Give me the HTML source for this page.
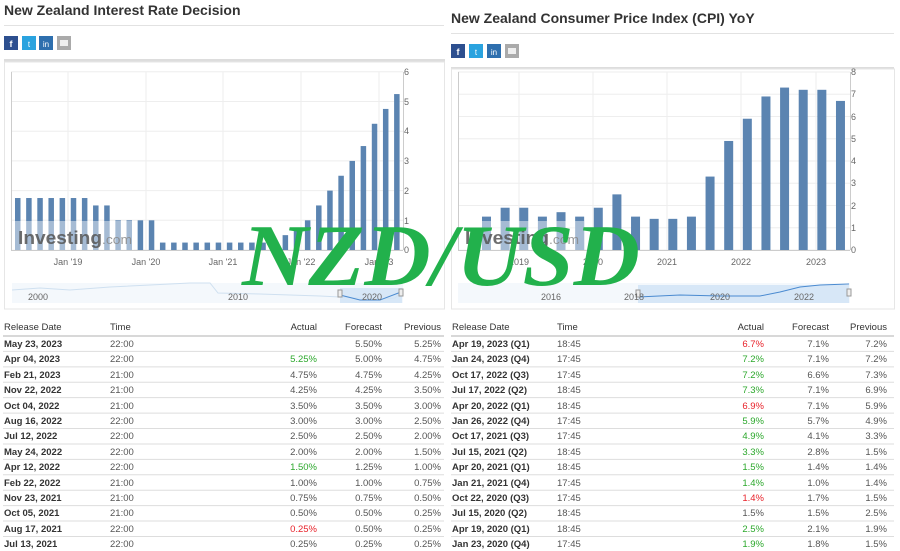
<!DOCTYPE html>
<html><head><meta charset="utf-8"><style>
body{margin:0;background:#fff;width:900px;height:551px;overflow:hidden}
svg{display:block;font-family:"Liberation Sans",Arial,sans-serif}
.t{font-size:14px;font-weight:bold;fill:#333}
.ax{font-size:9px;fill:#666}
.th{font-size:9.5px;fill:#333}
.d{font-size:9.5px;font-weight:bold;fill:#333}
.c{font-size:9.5px;fill:#555}
.r{text-anchor:end}
.g{fill:#2ca82c}.rd{fill:#e8222a}
</style></head><body>
<svg id="s" width="900" height="551" viewBox="0 0 900 551">
<text x="4" y="15" class="t">New Zealand Interest Rate Decision</text>
<line x1="4" y1="25.5" x2="444" y2="25.5" stroke="#e2e2e2"/>
<rect x="4" y="36" width="14" height="14" fill="#2d4f8f"/><text x="11" y="47" font-size="9" fill="#fff" text-anchor="middle" font-weight="bold">f</text>
<rect x="22" y="36" width="14" height="14" fill="#2aa3df"/><text x="29" y="47" font-size="8" fill="#fff" text-anchor="middle">t</text>
<rect x="39" y="36" width="14" height="14" fill="#2e6fae"/><text x="46" y="47" font-size="8" fill="#fff" text-anchor="middle">in</text>
<rect x="57" y="36" width="14" height="14" fill="#aaa"/><rect x="60" y="40" width="8" height="6" fill="#eee"/>
<rect x="4" y="59" width="441" height="3" fill="#ddd"/>
<rect x="4.5" y="62" width="440" height="247" fill="none" stroke="#e6e6e6"/>
<text x="451" y="23" class="t">New Zealand Consumer Price Index (CPI) YoY</text>
<line x1="451" y1="33.5" x2="894" y2="33.5" stroke="#e2e2e2"/>
<rect x="451" y="44" width="14" height="14" fill="#2d4f8f"/><text x="458" y="55" font-size="9" fill="#fff" text-anchor="middle" font-weight="bold">f</text>
<rect x="469" y="44" width="14" height="14" fill="#2aa3df"/><text x="476" y="55" font-size="8" fill="#fff" text-anchor="middle">t</text>
<rect x="487" y="44" width="14" height="14" fill="#2e6fae"/><text x="494" y="55" font-size="8" fill="#fff" text-anchor="middle">in</text>
<rect x="505" y="44" width="14" height="14" fill="#aaa"/><rect x="508" y="48" width="8" height="6" fill="#eee"/>
<rect x="451" y="67" width="443" height="2" fill="#ddd"/>
<rect x="451.5" y="69" width="443" height="240" fill="none" stroke="#e6e6e6"/>
<g id="dyn"></g>
<g class="ax">
<text x="404" y="75">6</text><text x="404" y="105">5</text><text x="404" y="134">4</text><text x="404" y="164">3</text><text x="404" y="194">2</text><text x="404" y="224">1</text><text x="404" y="253">0</text>
<text x="68" y="265" text-anchor="middle">Jan '19</text><text x="146" y="265" text-anchor="middle">Jan '20</text><text x="223" y="265" text-anchor="middle">Jan '21</text><text x="301" y="265" text-anchor="middle">Jan '22</text><text x="379" y="265" text-anchor="middle">Jan '23</text>
<text x="38" y="300" text-anchor="middle">2000</text><text x="238" y="300" text-anchor="middle">2010</text><text x="372" y="300" text-anchor="middle">2020</text>
<text x="851" y="75">8</text><text x="851" y="97">7</text><text x="851" y="120">6</text><text x="851" y="142">5</text><text x="851" y="164">4</text><text x="851" y="186">3</text><text x="851" y="209">2</text><text x="851" y="231">1</text><text x="851" y="253">0</text>
<text x="519" y="265" text-anchor="middle">2019</text><text x="593" y="265" text-anchor="middle">2020</text><text x="667" y="265" text-anchor="middle">2021</text><text x="741" y="265" text-anchor="middle">2022</text><text x="816" y="265" text-anchor="middle">2023</text>
<text x="551" y="300" text-anchor="middle">2016</text><text x="634" y="300" text-anchor="middle">2018</text><text x="720" y="300" text-anchor="middle">2020</text><text x="804" y="300" text-anchor="middle">2022</text>
</g>
<text x="18" y="244" font-size="18" font-weight="bold" fill="#555" opacity="0.85" textLength="114" lengthAdjust="spacingAndGlyphs">Investing<tspan font-weight="normal" font-size="13" fill="#888">.com</tspan></text>
<text x="465" y="244" font-size="18" font-weight="bold" fill="#555" opacity="0.85" textLength="114" lengthAdjust="spacingAndGlyphs">Investing<tspan font-weight="normal" font-size="13" fill="#888">.com</tspan></text>
<g class="th"><text x="4" y="330">Release Date</text><text x="110" y="330">Time</text><text x="317" y="330" class="r">Actual</text><text x="382" y="330" class="r">Forecast</text><text x="441" y="330" class="r">Previous</text>
<text x="452" y="330">Release Date</text><text x="557" y="330">Time</text><text x="764" y="330" class="r">Actual</text><text x="829" y="330" class="r">Forecast</text><text x="887" y="330" class="r">Previous</text></g>
<line x1="3" y1="336" x2="444" y2="336" stroke="#ccc" stroke-width="1.5"/><line x1="451" y1="336" x2="894" y2="336" stroke="#ccc" stroke-width="1.5"/>
<g id="rows"></g>
<g>
<text x="4" y="347" class="d">May 23, 2023</text><text x="110" y="347" class="c">22:00</text><text x="382" y="347" class="c r">5.50%</text><text x="441" y="347" class="c r">5.25%</text>
<text x="4" y="362" class="d">Apr 04, 2023</text><text x="110" y="362" class="c">22:00</text><text x="317" y="362" class="c r g">5.25%</text><text x="382" y="362" class="c r">5.00%</text><text x="441" y="362" class="c r">4.75%</text>
<text x="4" y="378" class="d">Feb 21, 2023</text><text x="110" y="378" class="c">21:00</text><text x="317" y="378" class="c r">4.75%</text><text x="382" y="378" class="c r">4.75%</text><text x="441" y="378" class="c r">4.25%</text>
<text x="4" y="393" class="d">Nov 22, 2022</text><text x="110" y="393" class="c">21:00</text><text x="317" y="393" class="c r">4.25%</text><text x="382" y="393" class="c r">4.25%</text><text x="441" y="393" class="c r">3.50%</text>
<text x="4" y="409" class="d">Oct 04, 2022</text><text x="110" y="409" class="c">21:00</text><text x="317" y="409" class="c r">3.50%</text><text x="382" y="409" class="c r">3.50%</text><text x="441" y="409" class="c r">3.00%</text>
<text x="4" y="424" class="d">Aug 16, 2022</text><text x="110" y="424" class="c">22:00</text><text x="317" y="424" class="c r">3.00%</text><text x="382" y="424" class="c r">3.00%</text><text x="441" y="424" class="c r">2.50%</text>
<text x="4" y="439" class="d">Jul 12, 2022</text><text x="110" y="439" class="c">22:00</text><text x="317" y="439" class="c r">2.50%</text><text x="382" y="439" class="c r">2.50%</text><text x="441" y="439" class="c r">2.00%</text>
<text x="4" y="455" class="d">May 24, 2022</text><text x="110" y="455" class="c">22:00</text><text x="317" y="455" class="c r">2.00%</text><text x="382" y="455" class="c r">2.00%</text><text x="441" y="455" class="c r">1.50%</text>
<text x="4" y="470" class="d">Apr 12, 2022</text><text x="110" y="470" class="c">22:00</text><text x="317" y="470" class="c r g">1.50%</text><text x="382" y="470" class="c r">1.25%</text><text x="441" y="470" class="c r">1.00%</text>
<text x="4" y="486" class="d">Feb 22, 2022</text><text x="110" y="486" class="c">21:00</text><text x="317" y="486" class="c r">1.00%</text><text x="382" y="486" class="c r">1.00%</text><text x="441" y="486" class="c r">0.75%</text>
<text x="4" y="501" class="d">Nov 23, 2021</text><text x="110" y="501" class="c">21:00</text><text x="317" y="501" class="c r">0.75%</text><text x="382" y="501" class="c r">0.75%</text><text x="441" y="501" class="c r">0.50%</text>
<text x="4" y="516" class="d">Oct 05, 2021</text><text x="110" y="516" class="c">21:00</text><text x="317" y="516" class="c r">0.50%</text><text x="382" y="516" class="c r">0.50%</text><text x="441" y="516" class="c r">0.25%</text>
<text x="4" y="532" class="d">Aug 17, 2021</text><text x="110" y="532" class="c">22:00</text><text x="317" y="532" class="c r rd">0.25%</text><text x="382" y="532" class="c r">0.50%</text><text x="441" y="532" class="c r">0.25%</text>
<text x="4" y="547" class="d">Jul 13, 2021</text><text x="110" y="547" class="c">22:00</text><text x="317" y="547" class="c r">0.25%</text><text x="382" y="547" class="c r">0.25%</text><text x="441" y="547" class="c r">0.25%</text>

<text x="452" y="347" class="d">Apr 19, 2023 (Q1)</text><text x="557" y="347" class="c">18:45</text><text x="764" y="347" class="c r rd">6.7%</text><text x="829" y="347" class="c r">7.1%</text><text x="887" y="347" class="c r">7.2%</text>
<text x="452" y="362" class="d">Jan 24, 2023 (Q4)</text><text x="557" y="362" class="c">17:45</text><text x="764" y="362" class="c r g">7.2%</text><text x="829" y="362" class="c r">7.1%</text><text x="887" y="362" class="c r">7.2%</text>
<text x="452" y="378" class="d">Oct 17, 2022 (Q3)</text><text x="557" y="378" class="c">17:45</text><text x="764" y="378" class="c r g">7.2%</text><text x="829" y="378" class="c r">6.6%</text><text x="887" y="378" class="c r">7.3%</text>
<text x="452" y="393" class="d">Jul 17, 2022 (Q2)</text><text x="557" y="393" class="c">18:45</text><text x="764" y="393" class="c r g">7.3%</text><text x="829" y="393" class="c r">7.1%</text><text x="887" y="393" class="c r">6.9%</text>
<text x="452" y="409" class="d">Apr 20, 2022 (Q1)</text><text x="557" y="409" class="c">18:45</text><text x="764" y="409" class="c r rd">6.9%</text><text x="829" y="409" class="c r">7.1%</text><text x="887" y="409" class="c r">5.9%</text>
<text x="452" y="424" class="d">Jan 26, 2022 (Q4)</text><text x="557" y="424" class="c">17:45</text><text x="764" y="424" class="c r g">5.9%</text><text x="829" y="424" class="c r">5.7%</text><text x="887" y="424" class="c r">4.9%</text>
<text x="452" y="439" class="d">Oct 17, 2021 (Q3)</text><text x="557" y="439" class="c">17:45</text><text x="764" y="439" class="c r g">4.9%</text><text x="829" y="439" class="c r">4.1%</text><text x="887" y="439" class="c r">3.3%</text>
<text x="452" y="455" class="d">Jul 15, 2021 (Q2)</text><text x="557" y="455" class="c">18:45</text><text x="764" y="455" class="c r g">3.3%</text><text x="829" y="455" class="c r">2.8%</text><text x="887" y="455" class="c r">1.5%</text>
<text x="452" y="470" class="d">Apr 20, 2021 (Q1)</text><text x="557" y="470" class="c">18:45</text><text x="764" y="470" class="c r g">1.5%</text><text x="829" y="470" class="c r">1.4%</text><text x="887" y="470" class="c r">1.4%</text>
<text x="452" y="486" class="d">Jan 21, 2021 (Q4)</text><text x="557" y="486" class="c">17:45</text><text x="764" y="486" class="c r g">1.4%</text><text x="829" y="486" class="c r">1.0%</text><text x="887" y="486" class="c r">1.4%</text>
<text x="452" y="501" class="d">Oct 22, 2020 (Q3)</text><text x="557" y="501" class="c">17:45</text><text x="764" y="501" class="c r rd">1.4%</text><text x="829" y="501" class="c r">1.7%</text><text x="887" y="501" class="c r">1.5%</text>
<text x="452" y="516" class="d">Jul 15, 2020 (Q2)</text><text x="557" y="516" class="c">18:45</text><text x="764" y="516" class="c r">1.5%</text><text x="829" y="516" class="c r">1.5%</text><text x="887" y="516" class="c r">2.5%</text>
<text x="452" y="532" class="d">Apr 19, 2020 (Q1)</text><text x="557" y="532" class="c">18:45</text><text x="764" y="532" class="c r g">2.5%</text><text x="829" y="532" class="c r">2.1%</text><text x="887" y="532" class="c r">1.9%</text>
<text x="452" y="547" class="d">Jan 23, 2020 (Q4)</text><text x="557" y="547" class="c">17:45</text><text x="764" y="547" class="c r g">1.9%</text><text x="829" y="547" class="c r">1.8%</text><text x="887" y="547" class="c r">1.5%</text>
</g>
<text x="242" y="285" font-family="'Liberation Serif',serif" font-style="italic" font-weight="bold" font-size="88" fill="#22b14c" textLength="398" lengthAdjust="spacingAndGlyphs">NZD/USD</text>
</svg>
<script>
var NS="http://www.w3.org/2000/svg",g=document.getElementById("dyn"),rows=document.getElementById("rows");
function el(t,a,p){var e=document.createElementNS(NS,t);for(var k in a)e.setAttribute(k,a[k]);(p||g).appendChild(e);return e;}
for(var i=0;i<=6;i++)el("line",{x1:11,x2:403,y1:250-i*29.7,y2:250-i*29.7,stroke:"#eee"});
[68,146,223,301,379].forEach(function(x){el("line",{x1:x,x2:x,y1:72,y2:250,stroke:"#eee"})});
el("line",{x1:11.5,x2:11.5,y1:72,y2:250,stroke:"#ccc"});el("line",{x1:403.5,x2:403.5,y1:72,y2:250,stroke:"#ccc"});
el("line",{x1:11,x2:403,y1:250.5,y2:250.5,stroke:"#ccc"});
var L=[1.75,1.75,1.75,1.75,1.75,1.75,1.75,1.5,1.5,1,1,1,1,.25,.25,.25,.25,.25,.25,.25,.25,.25,.25,.25,.5,.75,1,1.5,2,2.5,3,3.5,4.25,4.75,5.25];
L.forEach(function(v,i){var x=15+i*11.15;el("rect",{x:x,y:250-v*29.7,width:5.5,height:v*29.7,fill:"#5b84b1"})});
el("rect",{x:12,y:221,width:122,height:29,fill:"#fff",opacity:.45});
el("rect",{x:12,y:283,width:391,height:20,fill:"#f4f8fc"});
el("path",{d:"M12 290 L40 288 L70 290 L110 287 L150 285 L190 283 L210 283 L218 293 L260 294 L320 296 L360 298 L380 299 L395 298 L401 292",fill:"none",stroke:"#cfe0f0"});
el("rect",{x:340,y:288,width:62,height:15,fill:"#cfe2f5",opacity:.8});
el("path",{d:"M340 295 L360 300 L380 300 L401 292",fill:"none",stroke:"#4a8ad0"});
el("rect",{x:338,y:290,width:4,height:7,fill:"#eee",stroke:"#999"});el("rect",{x:399,y:289,width:4,height:7,fill:"#eee",stroke:"#999"});
for(var i=0;i<=8;i++)el("line",{x1:458,x2:850,y1:250-i*22.25,y2:250-i*22.25,stroke:"#eee"});
[519,593,667,741,816].forEach(function(x){el("line",{x1:x,x2:x,y1:72,y2:250,stroke:"#eee"})});
el("line",{x1:458.5,x2:458.5,y1:72,y2:250,stroke:"#ccc"});el("line",{x1:850.5,x2:850.5,y1:72,y2:250,stroke:"#ccc"});
el("line",{x1:458,x2:850,y1:250.5,y2:250.5,stroke:"#ccc"});
var R=[1.5,1.9,1.9,1.5,1.7,1.5,1.9,2.5,1.5,1.4,1.4,1.5,3.3,4.9,5.9,6.9,7.3,7.2,7.2,6.7];
R.forEach(function(v,i){var x=482+i*18.63;el("rect",{x:x,y:250-v*22.25,width:9,height:v*22.25,fill:"#5b84b1"})});
el("rect",{x:459,y:221,width:125,height:29,fill:"#fff",opacity:.45});
el("rect",{x:458,y:283,width:392,height:20,fill:"#f4f8fc"});
el("rect",{x:638,y:285,width:211,height:18,fill:"#cfe2f5",opacity:.8});
el("path",{d:"M638 297 L680 295 L720 296 L760 296 L780 292 L800 287 L820 285 L849 284",fill:"none",stroke:"#4a8ad0"});
el("rect",{x:636,y:290,width:4,height:7,fill:"#eee",stroke:"#999"});el("rect",{x:847,y:289,width:4,height:7,fill:"#eee",stroke:"#999"});
for(var i=1;i<14;i++){var y=336+i*15.42;el("line",{x1:3,x2:444,y1:y,y2:y,stroke:"#ddd"},rows);el("line",{x1:451,x2:894,y1:y,y2:y,stroke:"#ddd"},rows);}
</script>
</body></html>
